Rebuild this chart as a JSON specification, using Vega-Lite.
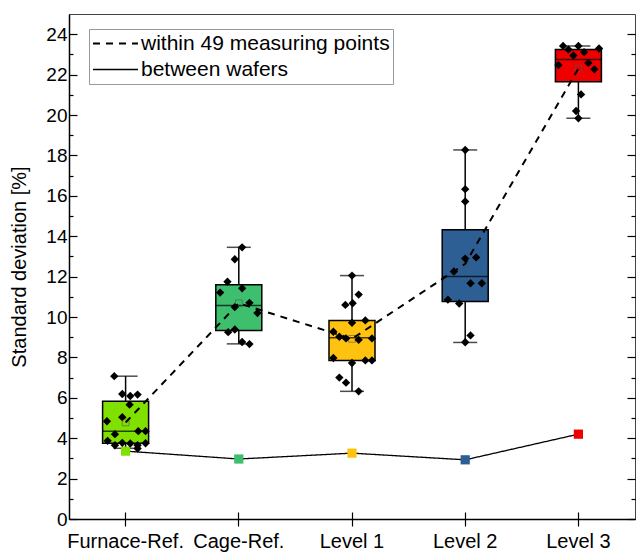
{
  "$schema": "https://vega.github.io/schema/vega-lite/v6.json",
  "width": 566,
  "height": 505,
  "autosize": {"type": "none"},
  "padding": {"left": 69, "top": 14, "right": 1, "bottom": 34},
  "config": {
    "font": "Liberation Sans",
    "view": {"stroke": "#444", "strokeWidth": 1},
    "axis": {"domainColor": "black", "tickColor": "black", "labelColor": "black", "titleColor": "black", "grid": false, "domainWidth": 1.5, "tickWidth": 1.2}
  },
  "datasets": {
    "boxes": [
      {"group": "Furnace-Ref.", "q1": 3.75, "q3": 5.83, "median": 4.35, "lo": 3.5, "hi": 7.07, "mean": 4.78, "between": 3.36},
      {"group": "Cage-Ref.", "q1": 9.33, "q3": 11.6, "median": 10.57, "lo": 8.67, "hi": 13.45, "mean": 10.68, "between": 2.97},
      {"group": "Level 1", "q1": 7.85, "q3": 9.83, "median": 8.97, "lo": 6.32, "hi": 12.05, "mean": 8.92, "between": 3.26},
      {"group": "Level 2", "q1": 10.77, "q3": 14.32, "median": 12.0, "lo": 8.74, "hi": 18.27, "mean": 12.63, "between": 2.93},
      {"group": "Level 3", "q1": 21.65, "q3": 23.24, "median": 22.75, "lo": 19.84, "hi": 23.41, "mean": 22.3, "between": 4.2}
    ],
    "points": [
      {"group": "Furnace-Ref.", "value": 7.07, "col": -1.7},
      {"group": "Furnace-Ref.", "value": 6.19, "col": -0.5},
      {"group": "Furnace-Ref.", "value": 6.09, "col": 0.7},
      {"group": "Furnace-Ref.", "value": 6.16, "col": 1.8},
      {"group": "Furnace-Ref.", "value": 5.66, "col": 0.6},
      {"group": "Furnace-Ref.", "value": 5.04, "col": -0.5},
      {"group": "Furnace-Ref.", "value": 4.84, "col": -2.8},
      {"group": "Furnace-Ref.", "value": 4.2, "col": -1.6},
      {"group": "Furnace-Ref.", "value": 4.35, "col": 1.9},
      {"group": "Furnace-Ref.", "value": 4.35, "col": 3.0},
      {"group": "Furnace-Ref.", "value": 3.87, "col": -2.7},
      {"group": "Furnace-Ref.", "value": 3.65, "col": -1.6},
      {"group": "Furnace-Ref.", "value": 3.77, "col": -0.5},
      {"group": "Furnace-Ref.", "value": 3.74, "col": 0.7},
      {"group": "Furnace-Ref.", "value": 3.65, "col": 1.8},
      {"group": "Furnace-Ref.", "value": 3.75, "col": 3.0},
      {"group": "Furnace-Ref.", "value": 3.49, "col": 1.8},
      {"group": "Cage-Ref.", "value": 13.45, "col": 0.5},
      {"group": "Cage-Ref.", "value": 12.86, "col": -0.6},
      {"group": "Cage-Ref.", "value": 11.75, "col": -1.7},
      {"group": "Cage-Ref.", "value": 11.42, "col": 0.5},
      {"group": "Cage-Ref.", "value": 11.21, "col": -2.8},
      {"group": "Cage-Ref.", "value": 10.7, "col": 1.6},
      {"group": "Cage-Ref.", "value": 10.49, "col": -0.6},
      {"group": "Cage-Ref.", "value": 10.2, "col": 2.8},
      {"group": "Cage-Ref.", "value": 9.25, "col": -1.6},
      {"group": "Cage-Ref.", "value": 9.38, "col": -0.6},
      {"group": "Cage-Ref.", "value": 8.76, "col": 0.5},
      {"group": "Cage-Ref.", "value": 8.66, "col": 1.6},
      {"group": "Level 1", "value": 12.05, "col": 0},
      {"group": "Level 1", "value": 11.11, "col": 1.0},
      {"group": "Level 1", "value": 10.6, "col": -1.0},
      {"group": "Level 1", "value": 10.68, "col": 0.1},
      {"group": "Level 1", "value": 9.83, "col": 2.0},
      {"group": "Level 1", "value": 9.71, "col": 0},
      {"group": "Level 1", "value": 9.27, "col": -2.8},
      {"group": "Level 1", "value": 9.02, "col": -1.9},
      {"group": "Level 1", "value": 8.94, "col": -0.9},
      {"group": "Level 1", "value": 8.87, "col": 1.0},
      {"group": "Level 1", "value": 8.94, "col": 3.0},
      {"group": "Level 1", "value": 7.97, "col": -2.8},
      {"group": "Level 1", "value": 7.72, "col": 0},
      {"group": "Level 1", "value": 7.85, "col": 2.0},
      {"group": "Level 1", "value": 7.85, "col": 3.0},
      {"group": "Level 1", "value": 7.0, "col": -1.9},
      {"group": "Level 1", "value": 6.75, "col": -0.9},
      {"group": "Level 1", "value": 6.32, "col": 1.0},
      {"group": "Level 2", "value": 18.27, "col": 0},
      {"group": "Level 2", "value": 16.33, "col": 0},
      {"group": "Level 2", "value": 15.72, "col": 0},
      {"group": "Level 2", "value": 12.89, "col": 0},
      {"group": "Level 2", "value": 12.95, "col": 1.65},
      {"group": "Level 2", "value": 12.25, "col": -1.7},
      {"group": "Level 2", "value": 11.67, "col": 0.8},
      {"group": "Level 2", "value": 11.67, "col": 2.5},
      {"group": "Level 2", "value": 10.86, "col": -2.6},
      {"group": "Level 2", "value": 10.67, "col": -0.9},
      {"group": "Level 2", "value": 9.09, "col": 0.8},
      {"group": "Level 2", "value": 8.75, "col": 0},
      {"group": "Level 3", "value": 23.42, "col": -2.3},
      {"group": "Level 3", "value": 23.42, "col": 0},
      {"group": "Level 3", "value": 23.24, "col": -1.5},
      {"group": "Level 3", "value": 23.29, "col": 3.1},
      {"group": "Level 3", "value": 22.95, "col": -0.75},
      {"group": "Level 3", "value": 23.11, "col": 0.85},
      {"group": "Level 3", "value": 22.47, "col": -3.0},
      {"group": "Level 3", "value": 22.58, "col": 1.5},
      {"group": "Level 3", "value": 22.26, "col": 2.4},
      {"group": "Level 3", "value": 21.02, "col": 0.4},
      {"group": "Level 3", "value": 20.2, "col": -0.35},
      {"group": "Level 3", "value": 19.84, "col": 0}
    ]
  },
  "encoding": {
    "x": {
      "field": "group", "type": "nominal",
      "sort": ["Furnace-Ref.", "Cage-Ref.", "Level 1", "Level 2", "Level 3"],
      "scale": {"paddingInner": 0, "paddingOuter": 0},
      "axis": null
    }
  },
  "layer": [
    {
      "data": {"name": "boxes"},
      "mark": {"type": "rule", "color": "black", "strokeWidth": 1.5},
      "encoding": {
        "x": {
          "field": "group", "type": "nominal",
          "sort": ["Furnace-Ref.", "Cage-Ref.", "Level 1", "Level 2", "Level 3"],
          "axis": {"orient": "top", "offset": -505, "title": null, "labels": false, "domain": false, "tickSize": 7}
        },
        "y": {"field": "lo", "type": "quantitative", "scale": {"domain": [0, 25], "nice": false},
          "axis": {"orient": "right", "title": null, "labels": false, "domain": false,
            "values": [0,1,2,3,4,5,6,7,8,9,10,11,12,13,14,15,16,17,18,19,20,21,22,23,24],
            "tickSize": {"condition": {"test": "datum.value % 2 === 0", "value": -8}, "value": -4}}},
        "y2": {"field": "hi"}
      }
    },
    {
      "data": {"name": "boxes"},
      "mark": {"type": "tick", "orient": "horizontal", "size": 24, "thickness": 1.5, "color": "black"},
      "encoding": {"y": {"field": "hi", "type": "quantitative", "axis": null}}
    },
    {
      "data": {"name": "boxes"},
      "mark": {"type": "tick", "orient": "horizontal", "size": 24, "thickness": 1.5, "color": "black"},
      "encoding": {"y": {"field": "lo", "type": "quantitative", "axis": null}}
    },
    {
      "data": {"name": "boxes"},
      "mark": {"type": "bar", "width": 46, "stroke": "black", "strokeWidth": 1.5, "opacity": 1},
      "encoding": {
        "x": {
          "field": "group", "type": "nominal",
          "sort": ["Furnace-Ref.", "Cage-Ref.", "Level 1", "Level 2", "Level 3"],
          "axis": {"orient": "bottom", "title": null, "labelAngle": 0, "labelFontSize": 20, "tickSize": 7, "labelPadding": 5, "labelBaseline": "top"}
        },
        "y": {"field": "q1", "type": "quantitative",
          "axis": {"orient": "left", "title": "Standard deviation [%]", "titleFontSize": 20, "titleFontWeight": "normal", "labelFontSize": 19,
            "values": [0,1,2,3,4,5,6,7,8,9,10,11,12,13,14,15,16,17,18,19,20,21,22,23,24],
            "labelExpr": "datum.value % 2 === 0 ? datum.label : ''",
            "tickSize": {"condition": {"test": "datum.value % 2 === 0", "value": -8}, "value": -4},
            "labelPadding": 10, "titlePadding": 16}},
        "y2": {"field": "q3"},
        "color": {"field": "group", "type": "nominal", "legend": null,
          "scale": {"domain": ["Furnace-Ref.", "Cage-Ref.", "Level 1", "Level 2", "Level 3"],
            "range": ["#80E000", "#3DBF6E", "#FFC20E", "#2D5F94", "#EE0000"]}}
      }
    },
    {
      "data": {"name": "boxes"},
      "mark": {"type": "tick", "orient": "horizontal", "size": 46, "thickness": 1.5, "color": "black"},
      "encoding": {"y": {"field": "median", "type": "quantitative", "axis": null}}
    },
    {
      "data": {"name": "boxes"},
      "mark": {"type": "point", "shape": "square", "filled": false, "size": 45, "stroke": "#555", "strokeWidth": 1, "opacity": 0.6},
      "encoding": {"y": {"field": "mean", "type": "quantitative", "axis": null}}
    },
    {
      "data": {"name": "boxes"},
      "transform": [{"fold": ["mean", "between"], "as": ["series", "value"]}],
      "mark": {"type": "line", "color": "black"},
      "encoding": {
        "y": {"field": "value", "type": "quantitative", "axis": null},
        "order": {"value": null},
        "strokeDash": {"field": "series", "type": "nominal",
          "scale": {"domain": ["mean", "between"], "range": [[7, 6], [1, 0]]},
          "legend": {"title": null, "orient": "none", "legendX": 20, "legendY": 15,
            "strokeColor": "#999", "padding": 3, "labelFontSize": 21, "labelColor": "black", "labelLimit": 500,
            "symbolType": "stroke", "symbolSize": 2025, "symbolStrokeColor": "black", "symbolStrokeWidth": 1.5,
            "labelOffset": 2, "rowPadding": 3, "clipHeight": 23,
            "labelExpr": "datum.label === 'mean' ? 'within 49 measuring points' : 'between wafers'"}},
        "strokeWidth": {"field": "series", "type": "nominal",
          "scale": {"domain": ["mean", "between"], "range": [2, 1.3]}, "legend": null}
      }
    },
    {
      "data": {"name": "boxes"},
      "mark": {"type": "point", "shape": "square", "filled": true, "size": 85, "opacity": 1},
      "encoding": {
        "y": {"field": "between", "type": "quantitative", "axis": null},
        "color": {"field": "group", "type": "nominal", "legend": null}
      }
    },
    {
      "data": {"name": "points"},
      "mark": {"type": "point", "shape": "diamond", "filled": true, "size": 70, "color": "black", "opacity": 1},
      "encoding": {
        "y": {"field": "value", "type": "quantitative", "axis": null},
        "xOffset": {"field": "col", "type": "quantitative", "scale": {"domain": [-8.5, 8.5]}}
      }
    }
  ],
  "resolve": {"axis": {"y": "independent", "x": "independent"}}
}
